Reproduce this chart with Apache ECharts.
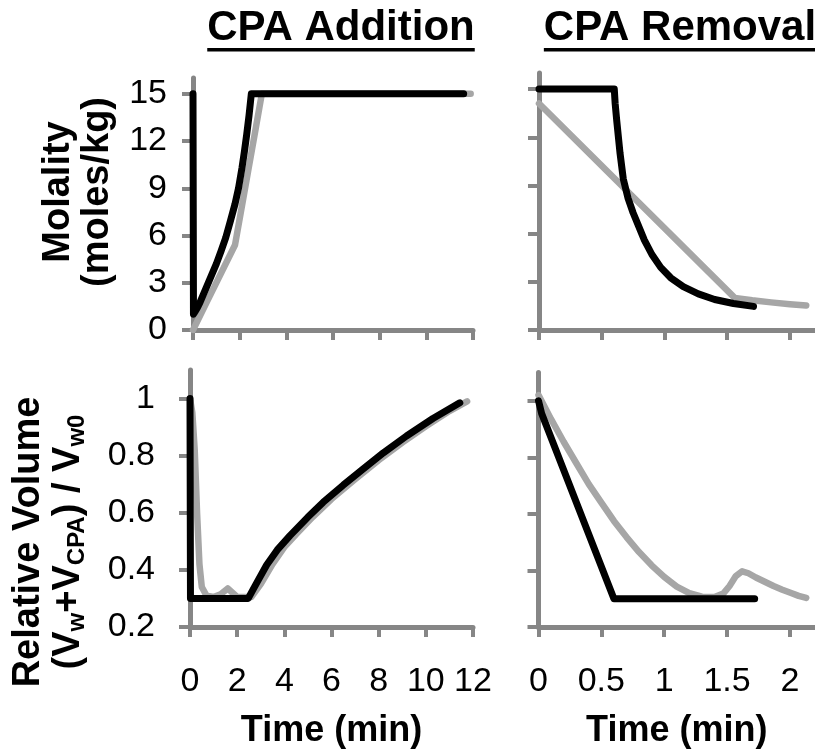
<!DOCTYPE html>
<html>
<head>
<meta charset="utf-8">
<script src="https://cdn.jsdelivr.net/npm/echarts@6/dist/echarts.min.js"></script>
<style>
  html, body { margin: 0; padding: 0; background: #fff; }
  #chart { width: 815px; height: 750px; }
</style>
</head>
<body>
<div id="chart"></div>
<script>
// ---- CPA addition: molality (moles/kg) vs time (min) ----
const addMolGrayT  = [0, 0.6, 1.2, 1.8, 2.1, 2.4, 2.7, 2.95, 11.9];
const addMolGrayV  = [0, 1.8, 3.6, 5.4, 7.9, 10.4, 12.9, 15, 15];
const addMolBlackT = [0, 0.02, 0.1, 0.2, 0.3, 0.4, 0.6, 0.8, 1.0, 1.2, 1.4, 1.6, 1.8, 1.95, 2.1, 2.2, 2.3, 2.4, 2.5, 11.6];
const addMolBlackV = [15, 1.0, 1.2, 1.45, 1.75, 2.1, 2.8, 3.5, 4.2, 5.0, 5.85, 6.9, 8.0, 9.0, 10.3, 11.3, 12.4, 13.6, 15, 15];

// ---- CPA removal: molality vs time ----
const remMolGrayT  = [0, 1.56, 1.7, 1.85, 2.0, 2.13];
const remMolGrayV  = [14.1, 2.0, 1.85, 1.72, 1.61, 1.52];
const remMolBlackT = [0, 0.6, 0.607, 0.62, 0.646, 0.672, 0.71, 0.75, 0.79, 0.84, 0.9, 0.97, 1.05, 1.15, 1.27, 1.4, 1.55, 1.71];
const remMolBlackV = [15, 15, 14.1, 13.0, 11.0, 9.4, 8.2, 7.3, 6.55, 5.6, 4.7, 3.9, 3.25, 2.7, 2.25, 1.9, 1.65, 1.47];

// ---- CPA addition: relative volume vs time ----
const addVolGrayT  = [0, 0.1, 0.2, 0.3, 0.4, 0.5, 0.7, 1.0, 1.3, 1.6, 1.8, 2.0, 2.6, 3.0, 3.5, 4.0, 4.5, 5.2, 6.0, 7.0, 8.0, 9.0, 10.0, 11.0, 11.75];
const addVolGrayV  = [1.0, 0.95, 0.82, 0.6, 0.42, 0.34, 0.31, 0.305, 0.315, 0.335, 0.32, 0.305, 0.305, 0.35, 0.42, 0.48, 0.525, 0.585, 0.648, 0.717, 0.784, 0.846, 0.903, 0.956, 0.99];
const addVolBlackT = [0, 0.02, 2.47, 2.8, 3.25, 3.7, 4.24, 5.0, 5.65, 6.5, 7.34, 8.2, 9.18, 10.3, 11.44];
const addVolBlackV = [1.0, 0.3, 0.3, 0.35, 0.417, 0.47, 0.52, 0.585, 0.637, 0.697, 0.753, 0.81, 0.869, 0.93, 0.985];

// ---- CPA removal: relative volume vs time ----
const remVolGrayT  = [0, 0.1, 0.2, 0.3, 0.4, 0.5, 0.6, 0.7, 0.8, 0.9, 1.0, 1.1, 1.2, 1.3, 1.4, 1.47, 1.52, 1.57, 1.62, 1.67, 1.73, 1.8, 1.87, 1.94, 2.01, 2.07, 2.13];
const remVolGrayV  = [1.02, 0.935, 0.855, 0.78, 0.705, 0.64, 0.575, 0.518, 0.465, 0.418, 0.377, 0.343, 0.32, 0.307, 0.306, 0.318, 0.345, 0.38, 0.397, 0.39, 0.375, 0.36, 0.345, 0.332, 0.32, 0.31, 0.303];
const remVolBlackT = [0, 0.025, 0.6, 1.72];
const remVolBlackV = [1.0, 0.955, 0.3, 0.3];

// ---- axis ticks ----
const addTimeTicks = [0, 2, 4, 6, 8, 10, 12];
const remTimeTicks = [0, 0.5, 1, 1.5, 2];
const molTicks = [0, 3, 6, 9, 12, 15];
const volTicks = [0.2, 0.4, 0.6, 0.8, 1];

const panelTitles = ['CPA Addition', 'CPA Removal'];
const timeName = 'Time (min)';

const AXIS = '#868686';
const GRAY = '#a6a6a6';
const FONT = '"Liberation Sans", Arial, Helvetica, sans-serif';

const zip = (t, v) => t.map((x, i) => [x, v[i]]);

const chart = echarts.init(document.getElementById('chart'));

function xAxisFor(gridIndex, max, ticks, showLabels) {
  return {
    type: 'value', gridIndex, min: 0, max,
    axisLine: { show: true, onZero: false, lineStyle: { color: AXIS, width: 5 } },
    axisTick: { show: true, inside: false, length: 10, customValues: ticks, lineStyle: { color: AXIS, width: 4 } },
    axisLabel: { show: showLabels, customValues: ticks, margin: 38, color: '#000', fontSize: 34, fontFamily: FONT },
    splitLine: { show: false },
    name: showLabels ? timeName : '',
    nameLocation: 'middle', nameGap: 86,
    nameTextStyle: { color: '#000', fontSize: 36, fontWeight: 'bold', fontFamily: FONT }
  };
}
function yAxisFor(gridIndex, min, max, ticks, showLabels, margin) {
  return {
    type: 'value', gridIndex, min, max,
    axisLine: { show: true, onZero: false, lineStyle: { color: AXIS, width: 5 } },
    axisTick: { show: true, inside: false, length: 11, customValues: ticks, lineStyle: { color: AXIS, width: 4 } },
    axisLabel: { show: showLabels, customValues: ticks, margin, color: '#000', fontSize: 34, fontFamily: FONT },
    splitLine: { show: false }
  };
}
function line(name, idx, data, color, width) {
  return {
    name, type: 'line', xAxisIndex: idx, yAxisIndex: idx, data,
    showSymbol: false, symbol: 'none', silent: true,
    lineStyle: { color, width, cap: 'round', join: 'round' }
  };
}

// measure title widths for the underlines
const meas = document.createElement('canvas').getContext('2d');
meas.font = 'bold 42px ' + FONT;
const titleCenters = [341, 680];
const titleGraphics = [];
panelTitles.forEach((t, i) => {
  const w = meas.measureText(t).width;
  titleGraphics.push({
    type: 'text', x: titleCenters[i], y: 28,
    style: { text: t, font: 'bold 42px ' + FONT, fill: '#000', align: 'center', verticalAlign: 'middle' }
  });
  titleGraphics.push({
    type: 'rect', shape: { x: titleCenters[i] - w / 2, y: 48, width: w, height: 3.5 },
    style: { fill: '#000' }
  });
});

const option = {
  animation: false,
  backgroundColor: '#fff',
  grid: [
    { left: 193, top: 78, width: 280, height: 252 },
    { left: 539, top: 73, width: 281.6, height: 257 },
    { left: 190, top: 370, width: 283, height: 259 },
    { left: 538.5, top: 372.5, width: 281.6, height: 257 }
  ],
  xAxis: [
    xAxisFor(0, 12, addTimeTicks, false),
    xAxisFor(1, 2.2, remTimeTicks, false),
    xAxisFor(2, 12, addTimeTicks, true),
    xAxisFor(3, 2.2, remTimeTicks, true)
  ],
  yAxis: [
    yAxisFor(0, 0, 16, molTicks, true, 26),
    yAxisFor(1, 0, 16, molTicks, false, 26),
    yAxisFor(2, 0.2, 1.1, volTicks, true, 35),
    yAxisFor(3, 0.2, 1.1, volTicks, false, 35)
  ],
  series: [
    line('addition molality (gray)', 0, zip(addMolGrayT, addMolGrayV), GRAY, 6.5),
    line('addition molality (black)', 0, zip(addMolBlackT, addMolBlackV), '#000', 7),
    line('removal molality (gray)', 1, zip(remMolGrayT, remMolGrayV), GRAY, 6.5),
    line('removal molality (black)', 1, zip(remMolBlackT, remMolBlackV), '#000', 7),
    line('addition volume (gray)', 2, zip(addVolGrayT, addVolGrayV), GRAY, 6.5),
    line('addition volume (black)', 2, zip(addVolBlackT, addVolBlackV), '#000', 7),
    line('removal volume (gray)', 3, zip(remVolGrayT, remVolGrayV), GRAY, 6.5),
    line('removal volume (black)', 3, zip(remVolBlackT, remVolBlackV), '#000', 7)
  ],
  graphic: titleGraphics.concat([
    {
      type: 'text', x: 78, y: 192, rotation: Math.PI / 2,
      style: {
        text: 'Molality\n(moles/kg)', font: 'bold 38px ' + FONT, fill: '#000',
        align: 'center', verticalAlign: 'middle', lineHeight: 39
      }
    },
    {
      type: 'text', x: 49, y: 542, rotation: Math.PI / 2,
      style: {
        text: '{b|Relative Volume}\n{b|(V}{s|w}{b|+V}{s|CPA}{b|) / V}{s|w0}',
        fill: '#000', align: 'center', verticalAlign: 'middle',
        rich: {
          b: { fontSize: 38, fontWeight: 'bold', fontFamily: FONT, fill: '#000', lineHeight: 40 },
          s: { fontSize: 24, fontWeight: 'bold', fontFamily: FONT, fill: '#000', lineHeight: 24, verticalAlign: 'bottom' }
        }
      }
    }
  ])
};
chart.setOption(option);
</script>
</body>
</html>
